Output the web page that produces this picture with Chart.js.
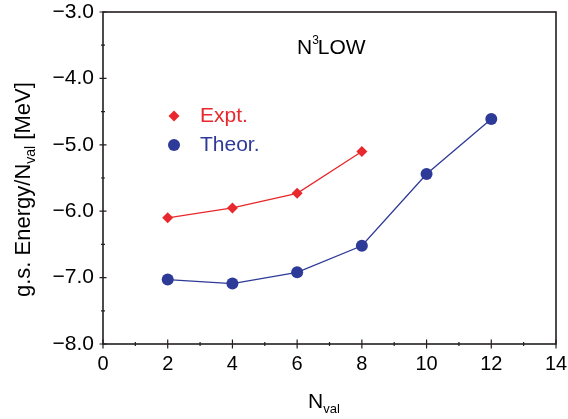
<!DOCTYPE html>
<html><head><meta charset="utf-8">
<script src="https://cdn.jsdelivr.net/npm/chart.js@4/dist/chart.umd.min.js"></script>
<style>html,body{margin:0;padding:0;background:#fff}</style>
</head><body>
<canvas id="c" width="568" height="419"></canvas>
<script>
// ---- data ----
const exptN = [2, 4, 6, 8];
const exptE = [-6.10, -5.95, -5.73, -5.10];
const theorN = [2, 4, 6, 8, 10, 12];
const theorE = [-7.03, -7.09, -6.92, -6.52, -5.44, -4.61];
const xTicks = [0, 2, 4, 6, 8, 10, 12, 14];
const yTicks = [-3, -4, -5, -6, -7, -8];
const xMinor = [1, 3, 5, 7, 9, 11, 13];
const yMinor = [-3.5, -4.5, -5.5, -6.5, -7.5];
const seriesNames = ['Expt.', 'Theor.'];
const panelLabel = ['N', '3', 'LOW'];

const RED = '#e8282c', BLUE = '#2e3a97', INK = '#231f20';
const FONT = 'Liberation Sans, Arial, Helvetica, sans-serif';

function pts(xs, ys) { return xs.map((x, i) => ({x: x, y: ys[i]})); }

const frame = {
  id: 'frame',
  afterDraw(chart) {
    const c = chart.ctx, a = chart.chartArea, xs = chart.scales.x, ys = chart.scales.y;
    c.save();
    c.strokeStyle = INK; c.lineWidth = 1.6;
    c.strokeRect(a.left, a.top, a.right - a.left, a.bottom - a.top);
    c.lineWidth = 1.2;
    c.beginPath();
    xTicks.forEach(v => { const p = xs.getPixelForValue(v); c.moveTo(p, a.bottom - 4.5); c.lineTo(p, a.bottom + 4.5); });
    xMinor.forEach(v => { const p = xs.getPixelForValue(v); c.moveTo(p, a.bottom - 2); c.lineTo(p, a.bottom + 2); });
    yTicks.forEach(v => { const p = ys.getPixelForValue(v); c.moveTo(a.left - 3.5, p); c.lineTo(a.left + 3.5, p); });
    yMinor.forEach(v => { const p = ys.getPixelForValue(v); c.moveTo(a.left - 2, p); c.lineTo(a.left + 2, p); });
    c.stroke();

    c.fillStyle = '#000';
    c.textBaseline = 'alphabetic';
    // panel label N^3LOW
    let x = 297, y = 54;
    c.font = '21px ' + FONT; c.textAlign = 'left';
    c.fillText(panelLabel[0], x, y); x += c.measureText(panelLabel[0]).width;
    c.font = '12px ' + FONT; c.fillText(panelLabel[1], x, y - 10); x += c.measureText(panelLabel[1]).width - 1;
    c.font = '21px ' + FONT; c.fillText(panelLabel[2], x, y);

    // legend
    c.fillStyle = RED;
    c.beginPath(); c.moveTo(174 - 5.5, 116); c.lineTo(174, 116 - 5.5); c.lineTo(174 + 5.5, 116); c.lineTo(174, 116 + 5.5); c.closePath(); c.fill();
    c.font = '21px ' + FONT; c.fillText(seriesNames[0], 200, 122);
    c.fillStyle = BLUE;
    c.beginPath(); c.arc(174, 145, 6, 0, Math.PI * 2); c.fill();
    c.fillText(seriesNames[1], 200, 151);

    // x title
    c.fillStyle = '#000';
    c.font = '21px ' + FONT;
    x = 308; y = 408;
    c.fillText('N', x, y); x += c.measureText('N').width;
    c.font = '13px ' + FONT; c.fillText('val', x, y + 5);

    // y title
    c.translate(30, 297); c.rotate(-Math.PI / 2);
    x = 0;
    c.font = '22px ' + FONT; c.fillText('g.s. Energy/N', x, 0); x += c.measureText('g.s. Energy/N').width;
    c.font = '14px ' + FONT; c.fillText('val', x, 5); x += c.measureText('val').width;
    c.font = '22px ' + FONT; c.fillText(' [MeV]', x, 0);
    c.restore();
  }
};

new Chart(document.getElementById('c'), {
  type: 'scatter',
  data: {
    datasets: [
      { label: seriesNames[0], data: pts(exptN, exptE), showLine: true, borderColor: RED, backgroundColor: RED,
        borderWidth: 1.3, pointStyle: 'rectRot', pointRadius: 5.5, pointBorderWidth: 0 },
      { label: seriesNames[1], data: pts(theorN, theorE), showLine: true, borderColor: BLUE, backgroundColor: BLUE,
        borderWidth: 1.3, pointStyle: 'circle', pointRadius: 6, pointBorderWidth: 0 }
    ]
  },
  options: {
    responsive: false, animation: false, events: [],
    layout: { padding: { top: 12, right: 12, left: 0, bottom: 0 } },
    plugins: { legend: { display: false }, tooltip: { enabled: false } },
    scales: {
      x: {
        type: 'linear', min: 0, max: 14,
        afterBuildTicks(s) { s.ticks = xTicks.map(v => ({ value: v })); },
        afterFit(s) { s.height = 75; s.paddingLeft = 0; s.paddingRight = 0; },
        grid: { display: false, drawTicks: false }, border: { display: false },
        ticks: { color: '#000', font: { family: FONT, size: 20 }, padding: 8, maxRotation: 0, autoSkip: false,
                 callback: v => String(v) }
      },
      y: {
        type: 'linear', min: -8, max: -3,
        afterBuildTicks(s) { s.ticks = yTicks.map(v => ({ value: v })); },
        afterFit(s) { s.width = 103; s.paddingTop = 0; s.paddingBottom = 0; },
        grid: { display: false, drawTicks: false }, border: { display: false },
        ticks: { color: '#000', font: { family: FONT, size: 21 }, padding: 9, autoSkip: false,
                 callback: v => '\u2212' + Math.abs(v).toFixed(1) }
      }
    }
  },
  plugins: [frame]
});
</script>
</body></html>
